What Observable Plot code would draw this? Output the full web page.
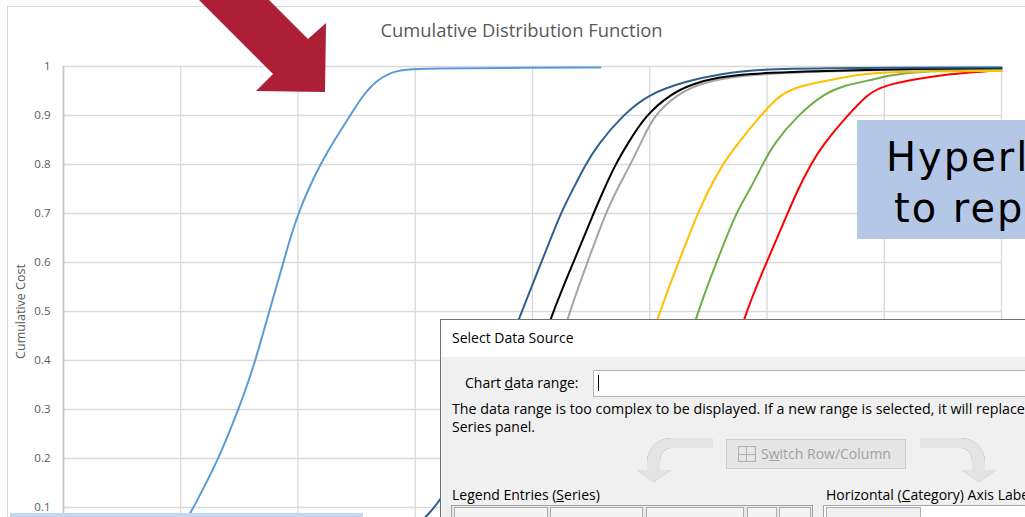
<!DOCTYPE html>
<html><head><meta charset="utf-8">
<script src="https://cdn.jsdelivr.net/npm/d3@7"></script>
<script src="https://cdn.jsdelivr.net/npm/@observablehq/plot@0.6"></script>
<style>
html,body{margin:0;padding:0;background:#fff;overflow:hidden;}
#wrap{position:relative;width:1025px;height:517px;overflow:hidden;background:#fff;}
#wrap > *{position:absolute;}
.dlg{font-family:"Open Sans",sans-serif;font-size:14px;color:#000;white-space:nowrap;line-height:16px;}
.hl{font-family:'DejaVu Sans',sans-serif;font-size:40px;letter-spacing:2px;line-height:51px;color:#000;white-space:nowrap;}
</style></head><body><div id="wrap"></div>
<script>
// ---- chart text ----
const chartTitle = "Cumulative Distribution Function";
const yAxisTitle = "Cumulative Cost";
const yTicks = [0.1, 0.2, 0.3, 0.4, 0.5, 0.6, 0.7, 0.8, 0.9, 1];
const yTickLabels = ["0.1", "0.2", "0.3", "0.4", "0.5", "0.6", "0.7", "0.8", "0.9", "1"];
const xGridTicks = [0, 1, 2, 3, 4, 5, 6, 7, 8];

// ---- series (drawn in this order) ----
const seriesNames = ["Red", "Green", "Yellow", "Gray", "Black", "Dark blue", "Light blue"];
const seriesColors = ["#ff0000", "#70ad47", "#ffc000", "#a5a5a5", "#000000", "#2e5f8f", "#5b9bd5"];

const redX = [4.921, 5.219, 5.458, 5.646, 5.799, 5.996, 6.175, 6.260, 6.371, 6.482, 6.687, 6.858, 6.994, 7.284, 7.566, 7.847, 8.0];
const redY = [0.05, 0.12, 0.22, 0.35, 0.489, 0.6, 0.7, 0.747, 0.8, 0.842, 0.9, 0.944, 0.961, 0.975, 0.985, 0.99, 0.992];

const greenX = [4.579, 4.835, 5.049, 5.236, 5.390, 5.569, 5.731, 5.851, 5.962, 6.056, 6.260, 6.482, 6.653, 6.858, 7.054, 7.250, 8.0];
const greenY = [0.05, 0.12, 0.22, 0.35, 0.489, 0.6, 0.7, 0.747, 0.8, 0.842, 0.9, 0.944, 0.961, 0.971, 0.982, 0.99, 0.995];

const yellowX = [4.238, 4.494, 4.707, 4.895, 5.066, 5.245, 5.407, 5.501, 5.620, 5.748, 5.945, 6.115, 6.286, 6.516, 6.738, 7.028, 8.0];
const yellowY = [0.05, 0.12, 0.22, 0.35, 0.489, 0.6, 0.7, 0.747, 0.8, 0.842, 0.9, 0.944, 0.961, 0.971, 0.982, 0.99, 0.991];

const grayX = [3.470, 3.641, 3.811, 3.982, 4.153, 4.298, 4.468, 4.622, 4.716, 4.835, 4.921, 5.032, 5.236, 5.433, 5.663, 6.030, 6.712, 8.0];
const grayY = [0.05, 0.1, 0.165, 0.25, 0.36, 0.489, 0.6, 0.7, 0.747, 0.8, 0.842, 0.9, 0.944, 0.965, 0.978, 0.986, 0.992, 0.997];

const blackX = [3.300, 3.470, 3.641, 3.811, 3.982, 4.153, 4.349, 4.520, 4.605, 4.707, 4.810, 4.963, 5.177, 5.373, 5.578, 5.834, 6.286, 6.968, 8.0];
const blackY = [0.05, 0.1, 0.165, 0.245, 0.355, 0.489, 0.6, 0.7, 0.747, 0.8, 0.842, 0.9, 0.944, 0.965, 0.978, 0.985, 0.99, 0.994, 0.997];

const darkBlueX = [3.044, 3.103, 3.214, 3.342, 3.470, 3.598, 3.726, 3.888, 4.076, 4.238, 4.340, 4.451, 4.562, 4.767, 4.989, 5.322, 5.603, 5.945, 6.712, 8.0];
const darkBlueY = [0.07, 0.084, 0.114, 0.17, 0.235, 0.305, 0.38, 0.489, 0.6, 0.7, 0.747, 0.8, 0.842, 0.9, 0.944, 0.971, 0.985, 0.995, 0.997, 0.998];

const lightBlueX = [1.047, 1.081, 1.200, 1.320, 1.405, 1.491, 1.567, 1.636, 1.695, 1.755, 1.815, 1.875, 1.934, 2.003, 2.088, 2.190, 2.310, 2.446, 2.549, 2.660, 2.788, 2.916, 3.129, 3.726, 4.579];
const lightBlueY = [0.075, 0.088, 0.142, 0.2, 0.248, 0.3, 0.35, 0.4, 0.45, 0.5, 0.55, 0.6, 0.65, 0.7, 0.75, 0.8, 0.85, 0.9, 0.94, 0.97, 0.988, 0.994, 0.996, 0.997, 0.998];

const seriesXs = [redX, greenX, yellowX, grayX, blackX, darkBlueX, lightBlueX];
const seriesYs = [redY, greenY, yellowY, grayY, blackY, darkBlueY, lightBlueY];

const rows = [];
seriesNames.forEach((name, i) => {
  seriesXs[i].forEach((x, j) => rows.push({series: name, x, y: seriesYs[i][j]}));
});

const chart = Plot.plot({
  width: 1025,
  height: 580,
  marginLeft: 63,
  marginRight: 24,
  marginTop: 66,
  marginBottom: 24,
  style: {background: "transparent", fontFamily: "'Open Sans', sans-serif", color: "#595959", overflow: "visible"},
  x: {domain: [0, 8], axis: null},
  y: {domain: [0, 1], axis: null},
  color: {domain: seriesNames, range: seriesColors},
  marks: [
    Plot.gridX(xGridTicks, {stroke: "#d9d9d9", strokeOpacity: 1, strokeWidth: 1.3}),
    Plot.gridY(yTicks, {stroke: "#d9d9d9", strokeOpacity: 1, strokeWidth: 1.3}),
    Plot.ruleX([0], {stroke: "#c6c6c6", strokeWidth: 1.6}),
    Plot.axisY(yTicks, {tickSize: 0, tickPadding: 13, fontSize: 11.5, fill: "#595959",
      tickFormat: d => yTickLabels[yTicks.indexOf(d)], label: null}),
    Plot.line(rows, {x: "x", y: "y", z: "series", stroke: "series", strokeWidth: 2, curve: "basis"}),
    Plot.text([chartTitle], {frameAnchor: "top", lineAnchor: "middle", dy: -35, dx: -11, fontSize: 18.4, fill: "#595959"}),
    Plot.text([yAxisTitle], {frameAnchor: "left", textAnchor: "middle", lineAnchor: "middle", dx: -43, rotate: -90, fontSize: 12.5, fill: "#595959"})
  ]
});

const wrap = document.getElementById("wrap");
chart.style.left = "0px"; chart.style.top = "0px"; chart.style.position = "absolute";
wrap.appendChild(chart);

function box(css, html, cls) {
  const d = document.createElement("div");
  if (cls) d.className = cls;
  d.style.cssText = "position:absolute;" + css;
  if (html != null) d.innerHTML = html;
  wrap.appendChild(d);
  return d;
}

// chart area border
box("left:7px;top:6px;width:1200px;height:800px;border:1px solid #d9d9d9;");

// red annotation arrow
box("left:0;top:0;width:340px;height:100px;background:#ad1f36;clip-path:polygon(199px 0,269px 0,308px 39px,326px 23px,325px 92px,256px 91px,273px 74px);");

// hyperlink box
box("left:857px;top:120px;width:300px;height:119px;background:#b4c7e6;");
box("left:886px;top:132px;", "Hyperlink", "hl");
box("left:894px;top:183px;", "to report", "hl");

// bottom-left box
box("left:10px;top:513px;width:353px;height:12px;background:#c9d7ee;");

// dialog
box("left:440px;top:319px;width:640px;height:260px;background:#f0f0f0;border:1px solid #727272;");
box("left:441px;top:320px;width:640px;height:37px;background:#fff;");
box("left:452px;top:330px;", "Select Data Source", "dlg");
box("left:465px;top:375px;", "Chart <u>d</u>ata range:", "dlg");
box("left:593px;top:370px;width:500px;height:25px;background:#fff;border:1px solid #b5b5b5;");
box("left:598px;top:375px;width:1px;height:16px;background:#000;");
box("left:452px;top:401px;font-size:14.25px;", "The data range is too complex to be displayed. If a new range is selected, it will replace all of the series in the", "dlg");
box("left:452px;top:419px;", "Series panel.", "dlg");

// curved arrows
const la = box("left:0;top:0;width:1025px;height:517px;filter:drop-shadow(0 0 0.6px #8c8c8c);");
la.innerHTML =
  '<div style="position:absolute;left:647px;top:438px;width:66px;height:36px;box-sizing:border-box;border-top:10px solid #e4e4e4;border-left:13px solid #e4e4e4;border-top-left-radius:24px;"></div>' +
  '<div style="position:absolute;left:637px;top:470px;width:0;height:0;border-left:17px solid transparent;border-right:17px solid transparent;border-top:12px solid #e4e4e4;"></div>' +
  '<div style="position:absolute;left:920px;top:438px;width:65px;height:36px;box-sizing:border-box;border-top:10px solid #e4e4e4;border-right:13px solid #e4e4e4;border-top-right-radius:24px;"></div>' +
  '<div style="position:absolute;left:962px;top:470px;width:0;height:0;border-left:17px solid transparent;border-right:17px solid transparent;border-top:12px solid #e4e4e4;"></div>';

// switch button
box("left:726px;top:439px;width:178px;height:28px;background:#e6e6e6;border:1px solid #cdcdcd;");
box("left:738px;top:446px;width:16px;height:14px;border:1px solid #b0b0b0;background-image:linear-gradient(90deg,transparent 7px,#b0b0b0 7px,#b0b0b0 8px,transparent 8px),linear-gradient(0deg,transparent 6px,#b0b0b0 6px,#b0b0b0 7px,transparent 7px);");
box("left:761px;top:446px;color:#a0a0a0;", "S<u>w</u>itch Row/Column", "dlg");

box("left:452px;top:487px;", "Legend Entries (<u>S</u>eries)", "dlg");
box("left:826px;top:487px;", "Horizontal (<u>C</u>ategory) Axis Labels", "dlg");

// button rows
box("left:451px;top:505px;width:360px;height:30px;background:#e8e8e8;border:1px solid #a5a5a5;");
[[454, 92], [550, 91], [646, 96], [747, 28], [779, 30]].forEach(([l, w]) =>
  box(`left:${l}px;top:507px;width:${w}px;height:24px;background:#f4f4f4;border:1px solid #adadad;`));
box("left:823px;top:505px;width:300px;height:30px;background:#fff;border:1px solid #a5a5a5;");
box("left:826px;top:507px;width:93px;height:24px;background:#f0f0f0;border:1px solid #adadad;");
</script></body></html>
